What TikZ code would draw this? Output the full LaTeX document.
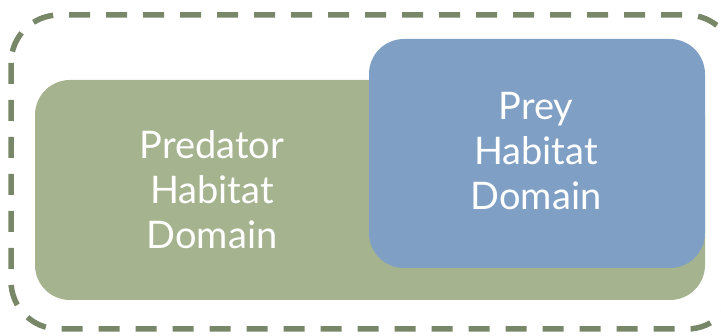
\documentclass[tikz,border=0pt]{standalone}
\usepackage{fontspec}
\setmainfont{Lato}
\definecolor{greenbox}{HTML}{A5B38F}
\definecolor{bluebox}{HTML}{7F9FC4}
\definecolor{dashc}{HTML}{788767}
\begin{document}
\begin{tikzpicture}[x=1pt,y=-1pt,
  lbl/.style={text=white,align=center,font=\fontsize{38}{45}\selectfont}]
\useasboundingbox (0,0) rectangle (721,336);
\begin{scope}
\clip (0,0) rectangle (721,336);
\draw[dashc,line width=5.5pt,dash pattern=on 21pt off 16pt,rounded corners=48pt] (11,15) rectangle (735,329);
\end{scope}
\fill[greenbox,rounded corners=35pt] (35,80) rectangle (705,300);
\fill[bluebox,rounded corners=35pt] (369,39) rectangle (705,268);
\node[lbl] (pred) at (212,190) {Predator\\Habitat\\Domain};
\node[lbl] (prey) at (536,151) {Prey\\Habitat\\Domain};
\end{tikzpicture}
\end{document}
